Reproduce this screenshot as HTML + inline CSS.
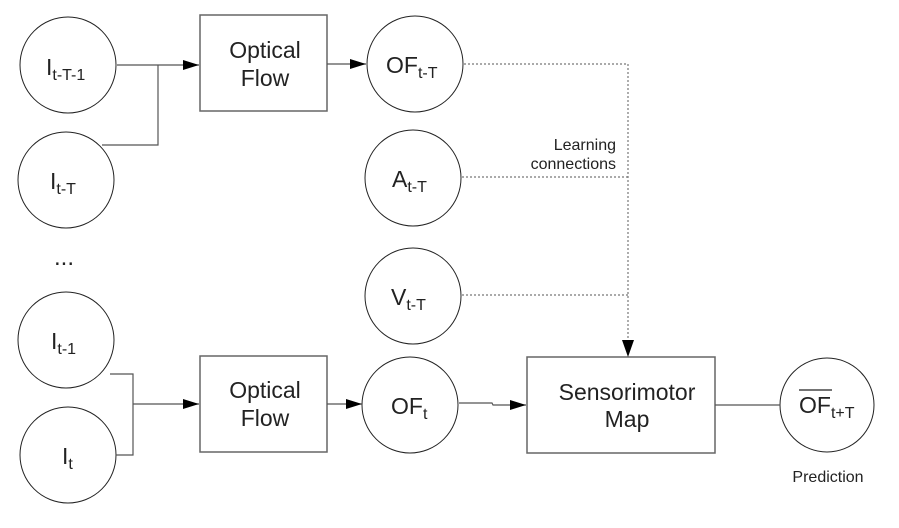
<!DOCTYPE html>
<html><head><style>
body{margin:0;background:#fff}
svg text{font-family:"Liberation Sans",Arial,sans-serif;fill:#222}
</style></head><body>
<svg width="899" height="523" viewBox="0 0 899 523" xmlns="http://www.w3.org/2000/svg">
<defs><marker id="a" markerWidth="17" markerHeight="12" refX="16" refY="6" orient="auto" markerUnits="userSpaceOnUse"><path d="M0,1L16,6L0,11z" fill="#000"/></marker></defs>
<g fill="none" stroke="#222" stroke-width="1">
<circle cx="68" cy="65" r="48"/>
<circle cx="66" cy="180" r="48"/>
<circle cx="66" cy="340" r="48"/>
<circle cx="68" cy="455" r="48"/>
<circle cx="415" cy="64" r="48"/>
<circle cx="413" cy="178" r="48"/>
<circle cx="413" cy="296" r="48"/>
<circle cx="410" cy="405" r="48"/>
<circle cx="827" cy="405" r="47"/>
</g>
<g fill="none" stroke="#666" stroke-width="1.5">
<rect x="200" y="15" width="127" height="96"/>
<rect x="200" y="356" width="127" height="96"/>
<rect x="527" y="357" width="188" height="96"/>
</g>
<g fill="none" stroke="#555" stroke-width="1.2">
<path d="M117,65H199" marker-end="url(#a)"/>
<path d="M102,145H158V65"/>
<path d="M327,64H366" marker-end="url(#a)"/>
<path d="M110,374H133V455H116"/>
<path d="M133,404H199" marker-end="url(#a)"/>
<path d="M327,404H362" marker-end="url(#a)"/>
<path d="M459,403H492L493,405H526" marker-end="url(#a)"/>
<path d="M715,405H780"/>
</g>
<g fill="none" stroke="#777" stroke-width="1.2" stroke-dasharray="2,2">
<path d="M464,64H628V345"/>
<path d="M462,177H628"/>
<path d="M462,295H628"/>
</g>
<path d="M622,340L634,340L628,357z" fill="#000"/>
<g font-size="23" text-anchor="middle">
<text x="265" y="58">Optical</text><text x="265" y="86">Flow</text>
<text x="265" y="398">Optical</text><text x="265" y="426">Flow</text>
<text x="627" y="400">Sensorimotor</text><text x="627" y="427">Map</text>
</g>
<g font-size="23">
<text x="46" y="75">I<tspan font-size="16" dy="5">t-T-1</tspan></text>
<text x="50" y="189">I<tspan font-size="16" dy="5">t-T</tspan></text>
<text x="51" y="349">I<tspan font-size="16" dy="5">t-1</tspan></text>
<text x="62" y="464">I<tspan font-size="16" dy="5">t</tspan></text>
<text x="386" y="73">OF<tspan font-size="16" dy="5">t-T</tspan></text>
<text x="392" y="187">A<tspan font-size="16" dy="5">t-T</tspan></text>
<text x="391" y="305">V<tspan font-size="16" dy="5">t-T</tspan></text>
<text x="391" y="414">OF<tspan font-size="16" dy="5">t</tspan></text>
<text x="799" y="413">OF<tspan font-size="16" dy="5">t+T</tspan></text>
<text x="54" y="265" font-size="24">...</text>
</g>
<line x1="799" y1="390" x2="832" y2="390" stroke="#222" stroke-width="1.2"/>
<g font-size="16" text-anchor="end">
<text x="616" y="150">Learning</text>
<text x="616" y="169">connections</text>
</g>
<text x="828" y="482" font-size="16" text-anchor="middle">Prediction</text>
</svg>
</body></html>
